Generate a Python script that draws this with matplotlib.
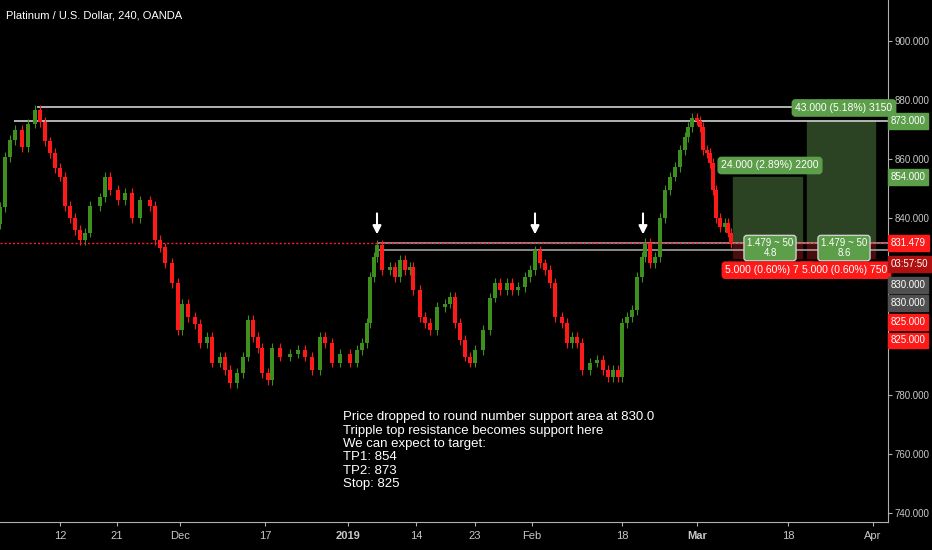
import matplotlib
matplotlib.use("Agg")
import matplotlib.pyplot as plt
from matplotlib.patches import Rectangle
import matplotlib.transforms as mt

# bar times expressed in chart pixels-equivalent time units, and closes
bar_t = [0,5,10,15,22,28,35,40,45,50,55,60,65,70,75,80,85,90,100,105,
         110,118,125,132,140,150,155,160,165,172,178,182,188,195,200,207,212,220,225,230,
         237,243,248,253,258,262,268,272,280,290,298,305,312,320,325,332,340,350,357,362,
         367,370,374,377,382,390,395,400,405,410,413,420,425,430,437,445,450,455,460,
         465,470,475,483,490,495,500,507,512,518,525,530,535,540,545,550,555,562,567,572,
         577,582,590,597,603,608,613,618,622,627,632,637,642,645,650,655,660,665,670,675,
         680,685,688,692,697,700,703,707,710,713,716,720,725,728,731]
closes = [843.7,860.7,866.4,869.8,864,872,876.6,872.5,866,862,857,854,844,840,836,832.5,835,844,847,854,
          849.5,846,848.5,840,846,844,832.5,830,824.7,818,802,811,806.5,804,797.6,799.7,791,793,788.5,784,
          787.5,793,805.4,799.7,796,787.5,785,796,793,794,795.3,793,788.5,799.7,797.6,791,794,791,795.3,797.6,
          804.4,820,826.8,830.8,822.4,823.4,820,825.8,822.4,823.4,815.6,806.5,804.4,802,809.8,811,813.2,804.4,798.6,
          793,791,795.3,802,813,818,815.6,818,815.6,816.6,820,822.4,829,824.6,822.4,818,806.5,804.4,797.6,799.7,
          797.6,788.5,791,791.9,788.5,786,788.5,786,804.4,806.5,808.8,820,826.8,831.5,824.6,826.8,840,849.5,854,857.3,
          863,867.5,870.8,874,873,870.8,863,862,858.6,849.5,840,837,838.3,835,831.5]
first_open = 838.0
wick = 1.6

tick_px = [60,117,180,265,348,416,475,532,622,697,788,873]
tick_labels = ["12","21","Dec","17","2019","14","23","Feb","18","Mar","18","Apr"]
yticks = [900,880,860,840,780,760,740]

BG = "#000000"
FONT = "Liberation Sans"
fig = plt.figure(figsize=(9.32,5.5), dpi=100, facecolor=BG)
ax = fig.add_axes([0, 28/550, 888/932, 522/550], facecolor=BG)
ax.set_xlim(0, 888)
ax.set_ylim(880-422/2.95, 880+100/2.95)

opens = [first_open] + closes[:-1]
for t,o,c in zip(bar_t,opens,closes):
    col = "#3f8f1f" if c>=o else "#ff1a1a"
    ax.vlines(t, min(o,c)-wick, max(o,c)+wick, color=col, lw=0.8, zorder=3)
    ax.add_patch(Rectangle((t-1.6, min(o,c)), 3.2, max(abs(c-o),0.3), color=col, lw=0, zorder=3))

ax.hlines(877.6, 37, 888, color="#d0d0d0", lw=1.2, zorder=2)
ax.hlines(873, 14, 888, color="#d0d0d0", lw=1.2, zorder=2)
ax.hlines(831.5, 377, 888, color="#a0a0a0", lw=1.2, zorder=2)
ax.hlines(829.3, 377, 888, color="#a0a0a0", lw=1.2, zorder=2)
ax.axhline(831.479, color="#ff2020", lw=1, ls=(0,(1.5,1.5)), zorder=4)

for ap in [377,535,643]:
    ax.annotate("", xy=(ap, 833.5), xytext=(ap, 842.5),
                arrowprops=dict(arrowstyle="-|>,head_width=0.25,head_length=0.5", color="white", lw=1.5))

for x0,x1,tgt in [(733,802,854),(807,875,873)]:
    ax.add_patch(Rectangle((x0,831.479), x1-x0, tgt-831.479, color="#2b4223", zorder=1))
    ax.add_patch(Rectangle((x0,826.5), x1-x0, 831.479-826.5, color="#4a0d0d", zorder=1))
def label(xc, y, s, fc, ec=None, fs=7.5):
    ax.text(xc, y, s, color="white", fontsize=fs, ha="center", va="center", zorder=6,
            family=FONT, linespacing=0.95,
            bbox=dict(boxstyle="round,pad=0.3", fc=fc, ec=ec or fc, lw=1))
label(770, 857.8, "24.000 (2.89%) 2200", "#5c9e4a")
label(844, 877.3, "43.000 (5.18%) 3150", "#5c9e4a")
label(770, 829.8, "1.479 ~ 50\n4.8", "#5c9e4a", "#d0d0d0", fs=7)
label(844, 829.8, "1.479 ~ 50\n8.6", "#5c9e4a", "#d0d0d0", fs=7)
label(768, 822.3, "5.000 (0.60%) 750", "#ff1a1a")
label(845, 822.3, "5.000 (0.60%) 750", "#ff1a1a")

for s in ax.spines.values(): s.set_visible(False)
ax.spines["right"].set_visible(True); ax.spines["right"].set_color("#b0b0b0")
ax.spines["bottom"].set_visible(True); ax.spines["bottom"].set_color("#b0b0b0")
ax.set_xticks(tick_px)
ax.set_xticklabels(tick_labels, fontsize=8, color="#c8c8c8", family=FONT)
for t in ax.get_xticklabels():
    if t.get_text() in ("2019","Mar"): t.set_fontweight("bold"); t.set_color("white")
ax.tick_params(axis="x", colors="#b0b0b0", length=3, labelcolor="#c8c8c8")
ax.yaxis.tick_right()
ax.set_yticks(yticks)
ax.set_yticklabels([f"{v:.3f}" for v in yticks], fontsize=7, color="#c8c8c8", family=FONT)
ax.tick_params(axis="y", colors="#b0b0b0", length=3, pad=2, labelcolor="#c8c8c8")

tr = mt.blended_transform_factory(ax.transAxes, ax.transData)
def rlabel(v, s, fc):
    ax.text(1.003, v, s, transform=tr, color="white", fontsize=7, va="center", ha="left",
            family=FONT, clip_on=False, zorder=7,
            bbox=dict(boxstyle="square,pad=0.3", fc=fc, ec=fc))
rlabel(873, "873.000", "#5c9e4a")
rlabel(854, "854.000", "#5c9e4a")
rlabel(831.479, "831.479", "#ff1a1a")
rlabel(824.5, "03:57:50", "#b01010")
rlabel(817.4, "830.000", "#505050")
rlabel(811.1, "830.000", "#505050")
rlabel(804.8, "825.000", "#ff1a1a")
rlabel(798.5, "825.000", "#ff1a1a")

fig.text(6/932, 1-16/550, "Platinum / U.S. Dollar, 240, OANDA", color="white", fontsize=8,
         va="center", family=FONT)
note = ("Price dropped to round number support area at 830.0\n"
        "Tripple top resistance becomes support here\n"
        "We can expect to target:\nTP1: 854\nTP2: 873\nStop: 825")
ax.text(343, 774.5, note, color="white", fontsize=9.5, va="top", ha="left",
        family=FONT, linespacing=1.15)

fig.savefig("out.png", dpi=100, facecolor=BG)
